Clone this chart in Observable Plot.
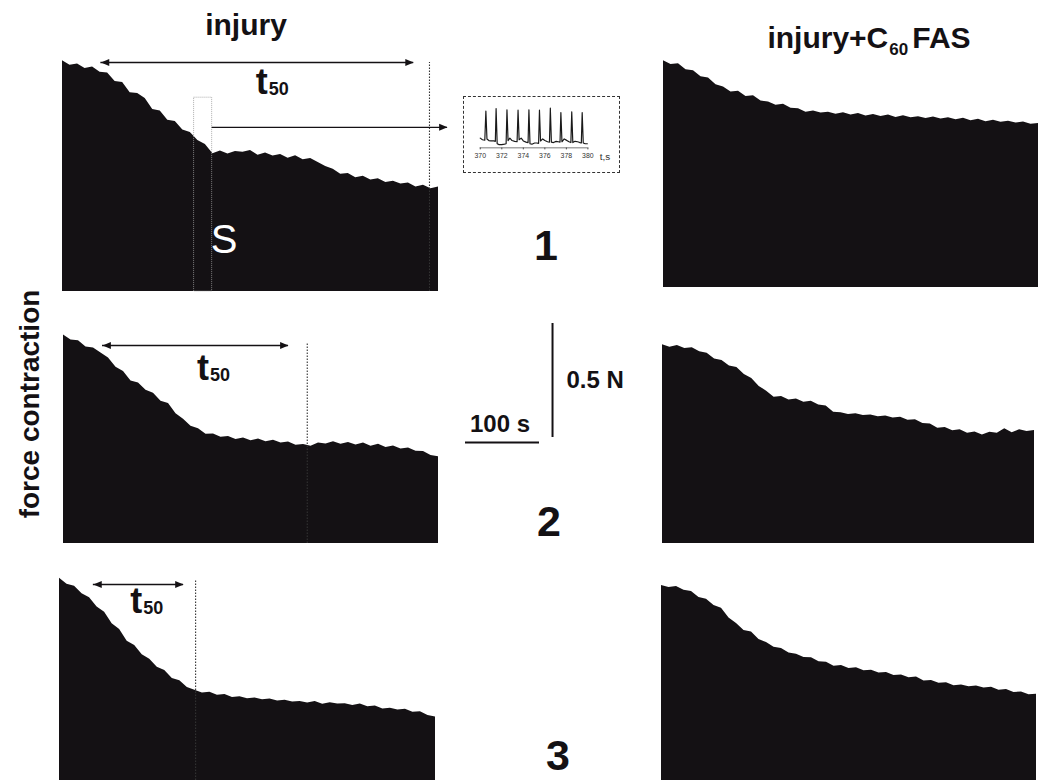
<!DOCTYPE html>
<html>
<head>
<meta charset="utf-8">
<script src="https://cdn.jsdelivr.net/npm/d3@7"></script>
<script src="https://cdn.jsdelivr.net/npm/@observablehq/plot@0.6"></script>
<style>
  html, body { margin: 0; padding: 0; background: #fff; }
  #fig { position: relative; width: 1043px; height: 780px; overflow: hidden; background: #fff;
         font-family: "Liberation Sans", Arial, Helvetica, sans-serif; color: #141114; }
  .abs { position: absolute; }
  .lbl { position: absolute; font-weight: bold; line-height: 1; white-space: nowrap; }
  #fig svg { overflow: visible; }
</style>
</head>
<body>
<div id="fig"></div>
<script>
// ---------------- data ----------------
// sample times (s) of each force trace envelope
const sampleTime = [0,10,20,30,40,50,60,70,80,90,100,110,120,130,140,150,160,170,180,190,200,
  210,220,230,240,250,260,270,280,290,300,310,320,330,340,350,360,370,380,390,400,
  410,420,430,440,450,460,470,480,490,500];

// force contraction envelope (N), left column "injury"
const injury1 = [1.012,0.992,0.998,0.978,0.985,0.962,0.958,0.921,0.917,0.872,0.868,0.846,0.798,0.792,0.751,0.746,0.708,0.697,0.662,0.645,0.604,
  0.616,0.603,0.614,0.611,0.618,0.598,0.607,0.594,0.601,0.584,0.595,0.578,0.583,0.566,0.548,0.536,0.514,0.517,0.499,0.506,
  0.489,0.495,0.478,0.484,0.471,0.476,0.458,0.466,0.451,0.458];
const injury2 = [0.915,0.893,0.889,0.862,0.858,0.836,0.814,0.773,0.754,0.713,0.704,0.672,0.659,0.624,0.614,0.569,0.545,0.514,0.503,0.479,0.480,
  0.466,0.469,0.456,0.463,0.451,0.458,0.446,0.453,0.441,0.445,0.431,0.434,0.427,0.441,0.436,0.446,0.435,0.443,0.432,0.441,
  0.426,0.435,0.421,0.428,0.414,0.419,0.405,0.404,0.386,0.381];
const injury3 = [0.887,0.861,0.852,0.819,0.802,0.761,0.738,0.687,0.662,0.611,0.592,0.552,0.532,0.497,0.482,0.447,0.437,0.408,0.396,0.384,0.387,
  0.374,0.377,0.364,0.367,0.359,0.362,0.354,0.357,0.349,0.352,0.344,0.347,0.340,0.346,0.334,0.341,0.335,0.337,0.329,0.336,
  0.324,0.327,0.314,0.317,0.309,0.312,0.299,0.301,0.285,0.279];

// force contraction envelope (N), right column "injury + C60 FAS"
const fas1 = [0.995,0.978,0.981,0.955,0.951,0.924,0.919,0.889,0.879,0.858,0.861,0.838,0.841,0.818,0.814,0.799,0.804,0.786,0.784,0.769,0.774,
  0.765,0.769,0.760,0.766,0.757,0.763,0.752,0.759,0.750,0.757,0.746,0.753,0.744,0.749,0.741,0.748,0.739,0.745,0.736,0.742,
  0.731,0.738,0.727,0.734,0.725,0.729,0.721,0.726,0.716,0.719];
const fas2 = [0.872,0.861,0.868,0.855,0.859,0.841,0.834,0.809,0.803,0.779,0.772,0.741,0.724,0.689,0.668,0.641,0.645,0.629,0.634,0.619,0.624,
  0.608,0.603,0.576,0.574,0.566,0.569,0.561,0.564,0.556,0.559,0.550,0.554,0.541,0.543,0.526,0.524,0.506,0.509,0.495,0.499,
  0.484,0.489,0.476,0.488,0.484,0.503,0.486,0.499,0.491,0.496];
const fas3 = [0.855,0.846,0.851,0.834,0.829,0.803,0.795,0.768,0.755,0.713,0.689,0.658,0.651,0.618,0.605,0.584,0.579,0.559,0.554,0.539,0.538,
  0.521,0.519,0.501,0.504,0.491,0.494,0.481,0.484,0.471,0.474,0.461,0.463,0.451,0.454,0.436,0.439,0.426,0.429,0.416,0.419,
  0.411,0.414,0.406,0.409,0.396,0.399,0.386,0.388,0.376,0.378];

// t50 annotations (s, N): arrow start/end, dotted marker time, marker top
const t50Start = [51, 52, 45];
const t50End   = [467, 300, 165];
const t50Force = [1.004, 0.868, 0.86];
const t50Time  = [488, 325, 181];
const t50Top   = [1.004, 0.877, 0.877];
const t50LabelTime  = [273, 194, 110];
const t50LabelForce = [0.868, 0.719, 0.734];

// magnified segment S (s)
const segStart = 175, segEnd = 199, segTop = 0.85, segArrowForce = 0.72, segArrowEnd = 512;
const segLabelTime = 215, segLabelForce = 0.171;

// inset: 370-380 s, single contractions
const insetT = [370.00,370.20,370.42,370.52,370.62,370.80,371.00,371.25,371.40,371.47,371.57,371.75,372.00,372.25,372.40,372.48,
  372.58,372.75,372.95,373.20,373.42,373.51,373.61,373.80,374.00,374.25,374.44,374.52,374.62,374.80,375.05,375.25,375.42,375.50,
  375.60,375.80,376.00,376.25,376.43,376.51,376.61,376.80,377.05,377.25,377.41,377.49,377.59,377.80,378.00,378.25,378.42,378.50,
  378.60,378.80,379.05,379.25,379.39,379.47,379.57,379.75,379.95];
const insetF = [0.24,0.20,0.19,0.91,0.22,0.18,0.17,0.17,0.16,0.97,0.10,0.08,0.08,0.09,0.10,0.94,
  0.18,0.24,0.18,0.16,0.15,0.93,0.20,0.24,0.17,0.14,0.13,0.94,0.10,0.09,0.12,0.12,0.11,0.93,
  0.17,0.22,0.18,0.15,0.14,0.98,0.14,0.13,0.16,0.15,0.14,0.87,0.15,0.22,0.19,0.15,0.13,0.89,
  0.13,0.16,0.15,0.13,0.12,0.87,0.12,0.10,0.10];
const insetTicks = [370,372,374,376,378,380];

// scale bars
const scaleTime = 100;   // s
const scaleForce = 0.5;  // N

// ---------------- layout ----------------
const FONT = '"Liberation Sans", Arial, Helvetica, sans-serif';
const INK = "#141114";
const PX_PER_N = 228;
const PANEL_H = 256;
const fig = document.getElementById("fig");

function place(node, left, top) {
  node.classList.add("abs");
  node.style.left = left + "px";
  node.style.top = top + "px";
  fig.appendChild(node);
  return node;
}

const headRight = {draw(ctx, size) { const r = Math.sqrt(size / Math.PI); ctx.moveTo(0, 0); ctx.lineTo(-2.4 * r, -r); ctx.lineTo(-2.4 * r, r); ctx.closePath(); }};
const headLeft  = {draw(ctx, size) { const r = Math.sqrt(size / Math.PI); ctx.moveTo(0, 0); ctx.lineTo(2.4 * r, -r); ctx.lineTo(2.4 * r, r); ctx.closePath(); }};

function tracePanel(values, cfg) {
  const data = sampleTime.map((t, i) => ({t, f: values[i]}));
  const yMax = PANEL_H / PX_PER_N;
  const marks = [Plot.areaY(data, {x: "t", y: "f", fill: INK, curve: "linear"})];
  if (cfg.t50 != null) {
    const i = cfg.t50;
    const a = [{t1: t50Start[i], t2: t50End[i], f: t50Force[i], td: t50Time[i], fd: t50Top[i], tl: t50LabelTime[i], fl: t50LabelForce[i]}];
    marks.push(
      Plot.ruleX(a, {x: "td", y1: 0, y2: "fd", stroke: "#333", strokeWidth: 1.1, strokeDasharray: "1.5,1.5"}),
      Plot.ruleY(a, {x1: "t1", x2: "t2", y: "f", stroke: INK, strokeWidth: 1.5}),
      Plot.dot(a, {x: "t1", y: "f", symbol: headLeft, r: 3.5, fill: INK}),
      Plot.dot(a, {x: "t2", y: "f", symbol: headRight, r: 3.5, fill: INK}),
      Plot.text(a, {x: "tl", y: "fl", text: () => "t", textAnchor: "end", lineAnchor: "bottom", fontSize: 36, fontWeight: "bold", fill: INK}),
      Plot.text(a, {x: "tl", y: "fl", text: () => "50", textAnchor: "start", lineAnchor: "bottom", fontSize: 18, fontWeight: "bold", fill: INK, dx: 1, dy: 1})
    );
  }
  if (cfg.segment) {
    const s = [{x1: segStart, x2: segEnd, top: segTop, fa: segArrowForce, te: segArrowEnd, tl: segLabelTime, fl: segLabelForce}];
    marks.push(
      Plot.rect(s, {x1: "x1", x2: "x2", y1: 0, y2: "top", fill: "none", stroke: "#9a9a9a", strokeWidth: 0.8, strokeDasharray: "1,1"}),
      Plot.ruleY(s, {x1: "x2", x2: "te", y: "fa", stroke: INK, strokeWidth: 1.3}),
      Plot.dot(s, {x: "te", y: "fa", symbol: headRight, r: 3.5, fill: INK}),
      Plot.text(s, {x: "tl", y: "fl", text: () => "S", fill: "#fff", fontSize: 40, fontWeight: "normal", textAnchor: "middle", lineAnchor: "bottom"})
    );
  }
  const mr = cfg.mr || 0;
  const svg = Plot.plot({
    width: cfg.width + mr, height: PANEL_H,
    marginLeft: 0, marginRight: mr, marginTop: 0, marginBottom: 0,
    x: {domain: [0, 500], axis: null},
    y: {domain: [0, yMax], axis: null},
    style: {background: "transparent", overflow: "visible", fontFamily: FONT},
    marks
  });
  place(svg, cfg.left, cfg.bottom - PANEL_H);
}

tracePanel(injury1, {left: 62,  width: 376, bottom: 291, t50: 0, segment: true, mr: 20});
tracePanel(fas1,    {left: 663, width: 375, bottom: 287});
tracePanel(injury2, {left: 63,  width: 375, bottom: 543, t50: 1});
tracePanel(fas2,    {left: 662, width: 372, bottom: 543});
tracePanel(injury3, {left: 59,  width: 376, bottom: 780, t50: 2});
tracePanel(fas3,    {left: 661, width: 375, bottom: 780});

// inset
{
  const data = insetT.map((t, i) => ({t, f: insetF[i]}));
  const box = document.createElement("div");
  box.style.width = "155px"; box.style.height = "75px";
  box.style.border = "1px dashed #333";
  place(box, 463, 96);
  const svg = Plot.plot({
    width: 157, height: 77,
    marginLeft: 17, marginRight: 31, marginTop: 11, marginBottom: 25,
    x: {domain: [370, 380], ticks: insetTicks, tickSize: 2, tickPadding: 3, tickFormat: d => String(d), label: null},
    y: {domain: [0, 1], axis: null},
    style: {background: "transparent", overflow: "visible", fontFamily: FONT, fontSize: "7px", color: "#333"},
    marks: [
      Plot.ruleY([0], {stroke: "#777", strokeWidth: 1}),
      Plot.line(data, {x: "t", y: "f", stroke: "#1a1a1a", strokeWidth: 1.2}),
      Plot.text([{t: 381.1, f: -0.22}], {x: "t", y: "f", text: () => "t,s", textAnchor: "start", fontSize: 10, fill: "#333"})
    ]
  });
  svg.style.left = "-1px"; svg.style.top = "-1px"; svg.style.position = "absolute";
  box.appendChild(svg);
}

// scale bars
{
  const svg = Plot.plot({
    width: 200, height: 160,
    marginLeft: 25, marginRight: 101, marginTop: 23, marginBottom: 23,
    x: {domain: [0, scaleTime], axis: null},
    y: {domain: [0, scaleForce], axis: null},
    style: {background: "transparent", overflow: "visible", fontFamily: FONT},
    marks: [
      Plot.ruleY([{a: 0, b: scaleTime, f: -0.022}], {x1: "a", x2: "b", y: "f", stroke: INK, strokeWidth: 2}),
      Plot.ruleX([{t: 117.6, a: 0, b: scaleForce}], {x: "t", y1: "a", y2: "b", stroke: INK, strokeWidth: 2}),
      Plot.text([{t: 46.6, f: 0.022}], {x: "t", y: "f", text: () => `${scaleTime} s`, textAnchor: "middle", lineAnchor: "bottom", fontSize: 24, fontWeight: "bold", fill: INK}),
      Plot.text([{t: 136.5, f: 0.215}], {x: "t", y: "f", text: () => `${scaleForce} N`, textAnchor: "start", lineAnchor: "bottom", fontSize: 24, fontWeight: "bold", fill: INK})
    ]
  });
  place(svg, 440, 300);
}

// text labels
function label(html, cx, top, size, extra) {
  const d = document.createElement("div");
  d.className = "lbl";
  d.innerHTML = html;
  d.style.fontSize = size + "px";
  d.style.left = cx + "px";
  d.style.top = top + "px";
  d.style.transform = extra || "translateX(-50%)";
  fig.appendChild(d);
  return d;
}
label("injury", 246, 10, 30);
label('injury+C<span style="font-size:17px;position:relative;top:7px;margin-left:1px;margin-right:4px">60</span>FAS', 869, 23, 30);
label("1", 546, 224, 43);
label("2", 549, 500, 43);
label("3", 558, 734, 43);
label("force contraction", 30, 404, 28, "translate(-50%,-50%) rotate(-90deg)");
</script>
</body>
</html>
